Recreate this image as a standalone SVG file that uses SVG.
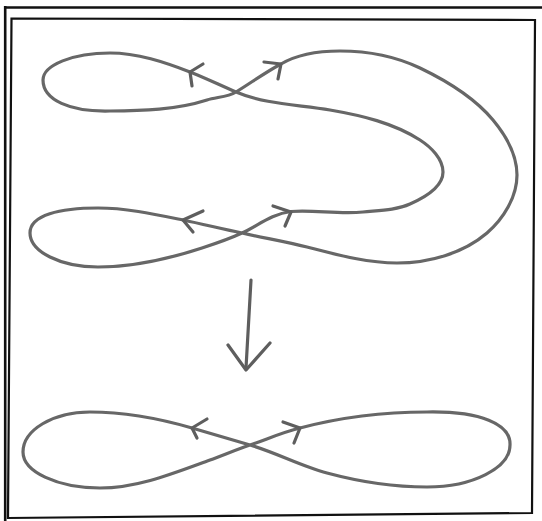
<svg xmlns="http://www.w3.org/2000/svg" width="542" height="521" viewBox="0 0 542 521">
  <style>
    .curve { fill: none; stroke: #676767; stroke-width: 3.2; stroke-linecap: round; stroke-linejoin: round; }
    .head { fill: none; stroke: #5e5e5e; stroke-width: 3.2; stroke-linecap: round; stroke-linejoin: round; }
    .frame { fill: none; stroke: #111; }
  </style>
  <rect x="0" y="0" width="542" height="521" fill="#ffffff"/>
  <g id="frame">
    <polygon points="11.5,18.5 535,20 532,513 8,518" fill="#ededed" class="frame" stroke-width="2.2"/>
    <line x1="4" y1="7.5" x2="542" y2="7.5" class="frame" stroke-width="2.6"/>
    <line x1="5.2" y1="6" x2="5.2" y2="521" class="frame" stroke-width="2.6"/>
  </g>
  <g id="upper-curve">
    <path class="curve" d="M236,92 C220.6,85.5 205.5,78 190,72 C164.5,62.1 137.4,53 110,53 C73,53 43,65 43,80 C43,100 70,112 110,111 C142.5,111 176.4,109.8 207,100 C216.4,97 227.5,97.2 236,92 C250.8,83 264.9,72.5 281,64 C297.8,54 319.5,51 340,51 C367.3,51 395.4,56.3 420,68 C446.9,80.9 473.9,97 493,120 C505.8,135.4 517,155 517,175 C517,196.8 503.6,218.8 487,233 C463,253.5 428.6,263 397,263 C366.5,263 336.6,254.6 307,247 C285.5,241.5 263.5,237.9 242,233 C222.6,229 202.4,224 183,220 C155.3,214.3 126.6,208 98,208 C60,208 30,215 30,233 C30,251.7 60.6,267 98,267 C133.2,267 168.6,258.9 202,248 C215.5,243.6 229.1,239 242,233 C258,225.6 271.5,214 291,211.5 C313.6,209.5 338.4,214.5 363,212 C378.9,210.4 395.7,210.4 410,204 C423.8,197.9 443,187.3 443,172 C443,158.9 431,147.1 420,140 C393.5,122.9 361.3,115.4 330,110 C298.4,104.6 265.3,104.4 236,92 Z"/>
    <polyline class="head" points="203,64 190,72 192,86"/>
    <polyline class="head" points="264,62 281,64 278,79"/>
    <polyline class="head" points="203,211 183,220 193,232"/>
    <polyline class="head" points="273,206 291,212 285,226"/>
  </g>
  <g id="transition-arrow">
    <line class="head" x1="251" y1="280" x2="246" y2="368" stroke-width="3.6"/>
    <polyline class="head" points="228,345 246,370 270,343" stroke-width="3.6"/>
  </g>
  <g id="lower-curve">
    <path class="curve" d="M250,445 C230.7,439.4 211.3,433.6 192,428 C159,418.4 124.4,412 90,412 C53.1,412 23,430 23,452 C23,471.8 57.6,488 100,488 C137.8,488 174.5,472.9 210,460 C223.3,455.2 236.5,449.5 250,445 C266.4,439.5 282.2,432.3 300,428 C340.7,417.2 384,412 427,412 C480,411 511,424 510,445 C510,468 472.6,487 427,487 C393.3,487 359.7,481.8 327,473 C300.5,465.9 276.2,452.6 250,445 Z"/>
    <polyline class="head" points="207,419 192,428 197,438"/>
    <polyline class="head" points="283,422 300,428 294,443"/>
  </g>
</svg>
